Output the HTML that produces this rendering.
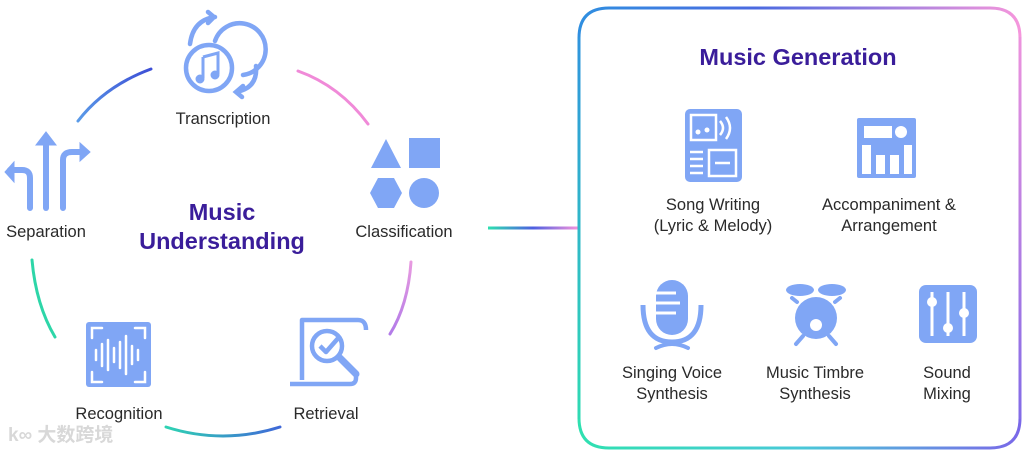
<!DOCTYPE html>
<html><head><meta charset="utf-8"><style>
html,body{margin:0;padding:0;background:#fff;}
body{width:1024px;height:452px;position:relative;overflow:hidden;font-family:"Liberation Sans","Noto Sans CJK SC",sans-serif;}
.l{position:absolute;font-size:16.5px;color:#2a2a2a;text-align:center;line-height:21px;white-space:nowrap;transform:translateX(-50%);}
.t{position:absolute;font-weight:bold;color:#3a1d9a;text-align:center;font-size:23.5px;line-height:29px;white-space:nowrap;transform:translateX(-50%);}
svg{position:absolute;left:0;top:0;}
</style></head><body>
<svg width="1024" height="452" viewBox="0 0 1024 452">
<defs>
<linearGradient id="g1" gradientUnits="userSpaceOnUse" x1="78" y1="121" x2="151" y2="69"><stop offset="0" stop-color="#5a9be8"/><stop offset="1" stop-color="#3d4fd6"/></linearGradient>
<linearGradient id="g2" gradientUnits="userSpaceOnUse" x1="0" y1="262" x2="0" y2="334"><stop offset="0" stop-color="#e89ae0"/><stop offset="1" stop-color="#b27be8"/></linearGradient>
<linearGradient id="g3" gradientUnits="userSpaceOnUse" x1="166" y1="0" x2="280" y2="0"><stop offset="0" stop-color="#2fd3b3"/><stop offset="1" stop-color="#3f68d8"/></linearGradient>
<linearGradient id="gc" gradientUnits="userSpaceOnUse" x1="488" y1="0" x2="578" y2="0"><stop offset="0" stop-color="#2ee0b0"/><stop offset="0.5" stop-color="#4d5fe0"/><stop offset="1" stop-color="#f593dc"/></linearGradient>
<linearGradient id="bt" gradientUnits="userSpaceOnUse" x1="579" y1="0" x2="1020" y2="0"><stop offset="0" stop-color="#2f8fe0"/><stop offset="0.4" stop-color="#4b6ae0"/><stop offset="1" stop-color="#f596dc"/></linearGradient>
<linearGradient id="bb" gradientUnits="userSpaceOnUse" x1="579" y1="0" x2="1020" y2="0"><stop offset="0" stop-color="#2fe0b0"/><stop offset="0.5" stop-color="#49c9d8"/><stop offset="1" stop-color="#7a68e8"/></linearGradient>
<linearGradient id="bl" gradientUnits="userSpaceOnUse" x1="0" y1="8" x2="0" y2="448"><stop offset="0" stop-color="#2f8fe0"/><stop offset="1" stop-color="#2fe0b0"/></linearGradient>
<linearGradient id="br" gradientUnits="userSpaceOnUse" x1="0" y1="8" x2="0" y2="448"><stop offset="0" stop-color="#f596dc"/><stop offset="1" stop-color="#7a68e8"/></linearGradient>
</defs>
<g fill="none" stroke-width="3" stroke-linecap="round">
<path d="M78,121 Q105,86 151,69" stroke="url(#g1)"/>
<path d="M298,71 Q340,86 368,124" stroke="#f08ad8"/>
<path d="M411,262 Q408,305 390,334" stroke="url(#g2)"/>
<path d="M166,427 Q223,445 280,427" stroke="url(#g3)"/>
<path d="M32,260 Q36,305 55,337" stroke="#2dd6a8"/>
</g>
<line x1="488" y1="228" x2="578" y2="228" stroke="url(#gc)" stroke-width="3"/>
<g fill="none" stroke-width="3">
<path d="M579,38 Q579,8 609,8 L990,8 Q1020,8 1020,38" stroke="url(#bt)"/>
<path d="M579,418 Q579,448 609,448 L990,448 Q1020,448 1020,418" stroke="url(#bb)"/>
<path d="M579,37 L579,419" stroke="url(#bl)"/>
<path d="M1020,37 L1020,419" stroke="url(#br)"/>
</g>
<g fill="#80a6f5" stroke="#80a6f5">
<g fill="none" stroke-width="4.5" stroke-linecap="round">
<circle cx="209" cy="68" r="23"/>
<path d="M215,41 A26,26 0 1 1 243,75"/>
<path d="M190,44 Q193,20 215,17 M208,12 L214,17 L208,23"/>
<path d="M256,66 Q258,88 236,92 M243,86 L236,92 L242,97"/>
</g>
<path d="M203,57 L218,53 L218,74 M203,57 L203,78" fill="none" stroke-width="3"/>
<circle cx="200" cy="79" r="4"/><circle cx="215" cy="75" r="4"/>
<g fill="none" stroke-width="6" stroke-linecap="round">
<path d="M46,208 L46,140"/><path d="M30,208 L30,178 Q30,170 22,170 L10,170"/><path d="M63,208 L63,160 Q63,152 72,152 L84,152"/>
</g>
<path d="M36,145 L46,132 L56,145Z M14,162 L5,172 L14,182Z M80,143 L90,152 L80,161Z" stroke-width="1"/>
<path d="M371,168 L386,139 L401,168Z" stroke-width="0"/>
<rect x="409" y="138" width="31" height="30" stroke-width="0"/>
<path d="M378,178 L394,178 L402,193 L394,208 L378,208 L370,193Z" stroke-width="0"/>
<circle cx="424" cy="193" r="15" stroke-width="0"/>
<rect x="86" y="322" width="65" height="65" rx="3" stroke-width="0"/>
<g stroke="#fff" stroke-width="2.5" stroke-linecap="round" fill="none">
<path d="M92,338 L92,328 L102,328 M135,328 L145,328 L145,338 M92,372 L92,382 L102,382 M145,372 L145,382 L135,382"/>
<path d="M96,350 V360 M102,344 V366 M108,340 V370 M114,348 V362 M120,342 V368 M126,336 V374 M132,346 V364 M138,350 V360"/>
</g>
<g fill="none" stroke-width="4.5" stroke-linejoin="round">
<path d="M302,380 L302,320 L358,320 Q366,320 366,330"/>
<path d="M290,384 L350,384 Q356,384 356,378 L356,372"/>
<circle cx="327" cy="346" r="15"/>
<path d="M320,346 L326,352 L340,336"/>
<path d="M340,358 L356,374" stroke-width="7" stroke-linecap="round"/>
</g>
<rect x="685" y="109" width="57" height="73" rx="5" stroke-width="0"/>
<g stroke="#fff" fill="none" stroke-width="2.5">
<rect x="691" y="115" width="25" height="25"/>
<rect x="709" y="150" width="27" height="26"/>
<path d="M720,121 Q726,128 720,135 M726,117 Q734,128 726,139 M690,152 H703 M690,159 H703 M690,166 H703 M690,173 H703 M715,163 H730"/>
</g>
<circle cx="698" cy="132" r="2.5" fill="#fff" stroke="none"/><circle cx="707" cy="130" r="2.5" fill="#fff" stroke="none"/>
<rect x="857" y="118" width="59" height="60" rx="2" stroke-width="0"/>
<g fill="#fff" stroke="none">
<rect x="864" y="126" width="28" height="12"/><circle cx="901" cy="132" r="6"/>
<rect x="862" y="145" width="9" height="29"/><rect x="876" y="155" width="9" height="19"/><rect x="890" y="155" width="9" height="19"/><rect x="904" y="145" width="8" height="29"/>
</g>
<rect x="656" y="280" width="32" height="55" rx="16" stroke-width="0"/>
<g stroke="#fff" stroke-width="3"><path d="M656,293 H676 M656,303 H680 M656,313 H676"/></g>
<path d="M643,305 Q643,342 672,342 Q701,342 701,305" fill="none" stroke-width="5"/>
<path d="M656,348 Q672,340 688,348" fill="none" stroke-width="4" stroke-linecap="round"/>
<ellipse cx="800" cy="290" rx="14" ry="6" stroke-width="0"/><ellipse cx="832" cy="290" rx="14" ry="6" stroke-width="0"/>
<circle cx="816" cy="318" r="21" stroke-width="0"/>
<circle cx="816" cy="325" r="6" fill="#fff" stroke="none"/>
<path d="M803,336 L796,344 M829,336 L836,344 M792,298 L797,302 M840,298 L835,302" stroke-width="4" stroke-linecap="round"/>
<rect x="919" y="285" width="58" height="58" rx="7" stroke-width="0"/>
<g stroke="#fff" stroke-width="3"><path d="M932,292 V336 M948,292 V336 M964,292 V336"/></g>
<circle cx="932" cy="302" r="5" fill="#fff" stroke="none"/><circle cx="948" cy="328" r="5" fill="#fff" stroke="none"/><circle cx="964" cy="313" r="5" fill="#fff" stroke="none"/>
</g>
</svg>
<div class="l" style="left:223px;top:109px">Transcription</div>
<div class="l" style="left:46px;top:222px">Separation</div>
<div class="l" style="left:404px;top:222px">Classification</div>
<div class="l" style="left:119px;top:404px">Recognition</div>
<div class="l" style="left:326px;top:404px">Retrieval</div>
<div class="t" style="left:222px;top:198px">Music<br>Understanding</div>
<div class="t" style="left:798px;top:43px">Music Generation</div>
<div class="l" style="left:713px;top:195px">Song Writing<br>(Lyric &amp; Melody)</div>
<div class="l" style="left:889px;top:195px">Accompaniment &amp;<br>Arrangement</div>
<div class="l" style="left:672px;top:363px">Singing Voice<br>Synthesis</div>
<div class="l" style="left:815px;top:363px">Music Timbre<br>Synthesis</div>
<div class="l" style="left:947px;top:363px">Sound<br>Mixing</div>
<div style="position:absolute;left:8px;top:420px;font-size:19px;color:#d8d8d8;font-weight:bold;font-family:'Liberation Sans','Noto Sans CJK SC',sans-serif">k∞ 大数跨境</div>
</body></html>
